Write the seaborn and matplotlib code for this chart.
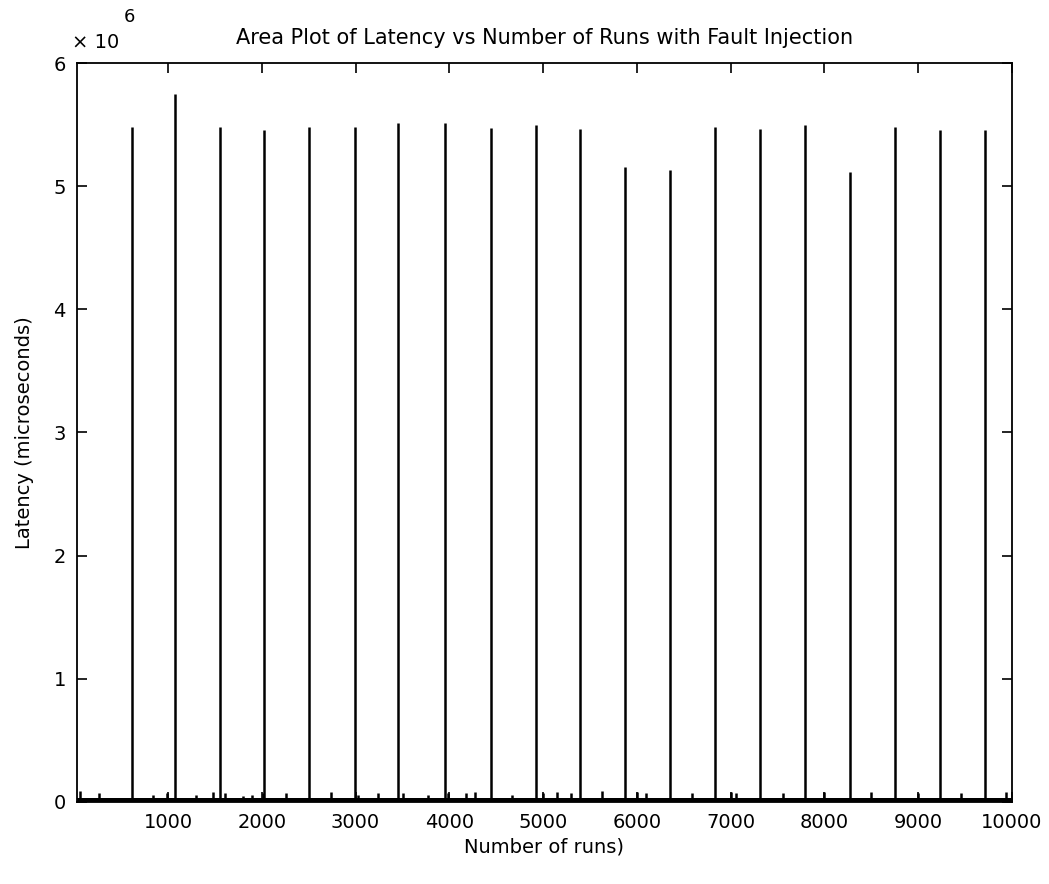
import matplotlib
matplotlib.use("Agg")
import matplotlib.pyplot as plt
import seaborn as sns
import numpy as np
import pandas as pd

sns.set_style("ticks")
plt.rcParams['font.family'] = ['DejaVu Sans']
plt.rcParams['text.color'] = 'black'
plt.rcParams['axes.labelcolor'] = 'black'

# tall latency spikes (run number, latency in microseconds)
spike_runs = [619, 1078, 1558, 2028, 2508, 2999, 3458, 3959, 4440, 4920,
              5390, 5870, 6350, 6830, 7311, 7791, 8271, 8751, 9232, 9712]
spike_lat = [5.48e6, 5.75e6, 5.48e6, 5.46e6, 5.48e6, 5.48e6, 5.51e6, 5.51e6, 5.47e6, 5.50e6,
             5.465e6, 5.157e6, 5.135e6, 5.484e6, 5.462e6, 5.50e6, 5.117e6, 5.484e6, 5.46e6, 5.46e6]

# small bumps near the floor
bump_runs = [64, 267, 843, 993, 1302, 1483, 1612, 1804, 1900, 2017, 2263, 2743,
             3031, 3244, 3501, 3778, 3981, 4173, 4269, 4664, 4995, 5144, 5294,
             5624, 5998, 6094, 6585, 7001, 7054, 7556, 7994, 8495, 8997, 9456, 9936]
bump_lat = [0.09e6, 0.07e6, 0.06e6, 0.07e6, 0.06e6, 0.08e6, 0.07e6, 0.05e6, 0.06e6, 0.07e6,
            0.07e6, 0.08e6, 0.06e6, 0.07e6, 0.07e6, 0.06e6, 0.07e6, 0.07e6, 0.08e6, 0.06e6,
            0.07e6, 0.08e6, 0.07e6, 0.09e6, 0.08e6, 0.07e6, 0.07e6, 0.08e6, 0.07e6, 0.07e6,
            0.08e6, 0.08e6, 0.07e6, 0.07e6, 0.08e6]

floor_lat = 0.03e6
x_min, x_max = 30, 10000

spikes = pd.DataFrame({'run': spike_runs, 'latency': spike_lat})
bumps = pd.DataFrame({'run': bump_runs, 'latency': bump_lat})

fig = plt.figure(figsize=(10.49, 8.84), dpi=100)
ax = fig.add_axes([0.0734, 0.0928, 0.8913, 0.8359])

ax.fill_between([x_min, x_max], 0, floor_lat, color='black', lw=0)
ax.vlines(spikes['run'], 0, spikes['latency'], color='black', lw=1.8)
ax.vlines(bumps['run'], 0, bumps['latency'], color='black', lw=1.8)

ax.set_xlim(x_min, x_max)
ax.set_ylim(0, 6e6)
ax.set_xticks(np.arange(1000, 10001, 1000))
ax.set_xticklabels([str(v) for v in range(1000, 10001, 1000)])
ax.set_yticks(np.arange(0, 6.1e6, 1e6))
ax.set_yticklabels([str(v) for v in range(0, 7)])

for s in ax.spines.values():
    s.set_visible(True)
    s.set_linewidth(1.3)
    s.set_color('black')
ax.tick_params(direction='in', length=7, width=1.2, top=True, right=True,
               labelsize=14, colors='black', pad=8)

ax.set_title('Area Plot of Latency vs Number of Runs with Fault Injection',
             fontsize=15, pad=14, color='black')
ax.set_xlabel('Number of runs)', fontsize=14, labelpad=4)
ax.set_ylabel('Latency (microseconds)', fontsize=14, labelpad=14)

ax.text(-0.005, 1.015, '\u00d7 10', transform=ax.transAxes, fontsize=14,
        ha='left', va='bottom')
ax.text(0.05, 1.05, '6', transform=ax.transAxes, fontsize=13,
        ha='left', va='bottom')

fig.savefig('out.png', dpi=100, facecolor='white')
